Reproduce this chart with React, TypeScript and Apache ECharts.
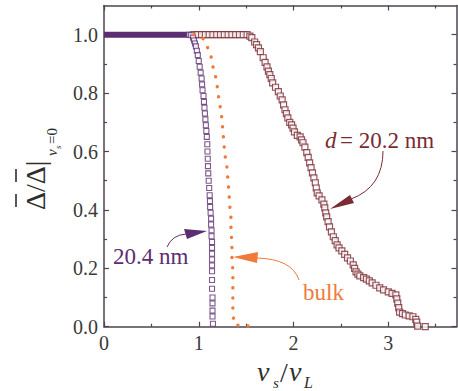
import React, { useEffect, useRef } from "react";
import * as echarts from "echarts";

// ---- data ----
const xMajor = [0, 1, 2, 3];
const xMinor = [0.5, 1.5, 2.5, 3.5];
const yMajor = [0, 0.2, 0.4, 0.6, 0.8, 1.0];
const yMinor = [0.1, 0.3, 0.5, 0.7, 0.9];

// 20.4 nm: dense plateau (overlapping squares form a band) + falling squares
const film204Plateau = [
  [0, 1],
  [0.92, 1],
];
const film204 = [
  [0.9, 1.0], [0.92, 0.998], [0.94, 0.99], [0.95, 0.98], [0.96, 0.97], [0.97, 0.96],
  [0.98, 0.945], [0.99, 0.93], [1.0, 0.91], [1.01, 0.89], [1.02, 0.87], [1.03, 0.85],
  [1.035, 0.83], [1.04, 0.81], [1.05, 0.79], [1.055, 0.77], [1.06, 0.75], [1.065, 0.73],
  [1.07, 0.71], [1.075, 0.69], [1.08, 0.67], [1.085, 0.65], [1.09, 0.625], [1.092, 0.6],
  [1.095, 0.575], [1.097, 0.55], [1.1, 0.525], [1.105, 0.5], [1.11, 0.475], [1.115, 0.45],
  [1.118, 0.43], [1.12, 0.41], [1.125, 0.39], [1.13, 0.37], [1.13, 0.35], [1.135, 0.33],
  [1.135, 0.31], [1.14, 0.29], [1.14, 0.27], [1.14, 0.25], [1.14, 0.23], [1.14, 0.21],
  [1.14, 0.19], [1.14, 0.16], [1.14, 0.13], [1.145, 0.1], [1.145, 0.08], [1.145, 0.055],
  [1.145, 0.035], [1.15, 0.01],
];

// d = 20.2 nm
const film202 = [
  [0.95, 1], [0.99, 1], [1.03, 1], [1.07, 1], [1.11, 1], [1.15, 1], [1.19, 1], [1.23, 1],
  [1.27, 1], [1.31, 1], [1.35, 1], [1.39, 1], [1.43, 1], [1.47, 1], [1.51, 1.0],
  [1.54, 0.995], [1.56, 0.99], [1.59, 0.975], [1.61, 0.966], [1.63, 0.955], [1.65, 0.942],
  [1.68, 0.921], [1.7, 0.905], [1.72, 0.89], [1.735, 0.875], [1.75, 0.863], [1.765, 0.85],
  [1.78, 0.835], [1.81, 0.82], [1.84, 0.805], [1.86, 0.79], [1.88, 0.777], [1.895, 0.76],
  [1.91, 0.743], [1.925, 0.73], [1.94, 0.715], [1.96, 0.7], [1.98, 0.691], [1.995, 0.68],
  [2.01, 0.667], [2.04, 0.655], [2.07, 0.65], [2.085, 0.64], [2.1, 0.63], [2.12, 0.615],
  [2.14, 0.596], [2.155, 0.58], [2.17, 0.561], [2.185, 0.545], [2.2, 0.527], [2.215, 0.51],
  [2.23, 0.493], [2.24, 0.475], [2.25, 0.458], [2.27, 0.448], [2.3, 0.434], [2.32, 0.42],
  [2.33, 0.407], [2.34, 0.39], [2.35, 0.376], [2.365, 0.36], [2.38, 0.342], [2.4, 0.325],
  [2.42, 0.308], [2.44, 0.295], [2.46, 0.28], [2.48, 0.27], [2.51, 0.26], [2.54, 0.248],
  [2.57, 0.236], [2.6, 0.225], [2.63, 0.212], [2.645, 0.2], [2.66, 0.188], [2.68, 0.18],
  [2.7, 0.174], [2.74, 0.168], [2.77, 0.163], [2.8, 0.157], [2.83, 0.15], [2.87, 0.142],
  [2.91, 0.133], [2.95, 0.126], [3.0, 0.119], [3.04, 0.114], [3.08, 0.109], [3.09, 0.095],
  [3.1, 0.081], [3.11, 0.065], [3.12, 0.05], [3.15, 0.045], [3.18, 0.04], [3.22, 0.037],
  [3.26, 0.034], [3.29, 0.025], [3.3, 0.016], [3.31, 0.002], [3.39, 0.0],
];

// bulk (dotted)
const bulk = [
  [0.95, 1.0], [1.04, 0.99], [1.09, 0.959], [1.13, 0.925], [1.15, 0.89], [1.18, 0.853],
  [1.2, 0.812], [1.21, 0.784], [1.23, 0.746], [1.245, 0.709], [1.255, 0.668], [1.276, 0.589],
  [1.297, 0.548], [1.308, 0.503], [1.319, 0.458], [1.329, 0.41], [1.34, 0.373], [1.34, 0.331],
  [1.35, 0.287], [1.35, 0.239], [1.36, 0.194], [1.36, 0.15], [1.36, 0.081], [1.36, 0.04],
  [1.38, 0.006], [1.6, 0.0],
];

const X_MAX = 3.72;
const Y_MAX = 1.1;

const AXIS = "#4d4450";
const LABEL = "#3a3a3a";
const INK = "#2e2e2e";
const PURPLE = "#5c2d70";
const RED = "#7a2b33";
const ORANGE = "#f07a3a";
const SERIF = "Liberation Serif";

function tickAxis(kind: "x" | "y", position: string, values: number[], len: number, line: boolean, labels: boolean) {
  const base: any = {
    type: "value",
    position,
    min: 0,
    max: kind === "x" ? X_MAX : Y_MAX,
    splitLine: { show: false },
    axisLine: { show: line, onZero: false, lineStyle: { color: AXIS, width: 1.5 } },
    axisTick: { show: true, inside: true, length: len, customValues: values, lineStyle: { color: AXIS, width: 1.2 } },
    axisLabel: labels
      ? {
          show: true,
          customValues: values,
          formatter: (v: number) => (kind === "x" ? String(Math.round(v)) : v.toFixed(1)),
          fontFamily: SERIF,
          fontSize: 20,
          color: LABEL,
          margin: 6,
        }
      : { show: false },
  };
  return base;
}

function t(x: number, y: number, text: string, size: number, fill: string, italic = false, va = "bottom") {
  return {
    type: "text",
    x,
    y,
    style: { text, fontFamily: SERIF, fontSize: size, fontStyle: italic ? "italic" : "normal", fill, verticalAlign: va },
  };
}

export default function App() {
  const ref = useRef<HTMLDivElement>(null);
  useEffect(() => {
    if (!ref.current) return;
    const chart = echarts.init(ref.current, undefined, { renderer: "svg" });
    const option: any = {
      animation: false,
      backgroundColor: "#ffffff",
      grid: { left: 104, right: 1.5, top: 5.5, bottom: 64.3, containLabel: false },
      xAxis: [
        tickAxis("x", "bottom", xMajor, 5, true, true),
        tickAxis("x", "bottom", xMinor, 3, false, false),
        tickAxis("x", "top", xMajor, 5, true, false),
        tickAxis("x", "top", xMinor, 3, false, false),
      ],
      yAxis: [
        tickAxis("y", "left", yMajor, 5, true, true),
        tickAxis("y", "left", yMinor, 3, false, false),
        tickAxis("y", "right", yMajor, 5, true, false),
        tickAxis("y", "right", yMinor, 3, false, false),
      ],
      series: [
        {
          type: "scatter",
          xAxisIndex: 0,
          yAxisIndex: 0,
          data: film202,
          symbol: "rect",
          symbolSize: 6,
          itemStyle: { color: "#ffffff", borderColor: RED, borderWidth: 1.2 },
          z: 2,
        },
        {
          type: "line",
          xAxisIndex: 0,
          yAxisIndex: 0,
          data: film204Plateau,
          showSymbol: false,
          lineStyle: { color: PURPLE, width: 6 },
          z: 3,
        },
        {
          type: "scatter",
          xAxisIndex: 0,
          yAxisIndex: 0,
          data: film204,
          symbol: "rect",
          symbolSize: 5,
          itemStyle: { color: "#ffffff", borderColor: PURPLE, borderWidth: 1.1 },
          z: 3,
        },
        {
          type: "line",
          xAxisIndex: 0,
          yAxisIndex: 0,
          data: bulk,
          showSymbol: false,
          lineStyle: { color: ORANGE, width: 3.4, type: [0.1, 10], cap: "round" },
          z: 4,
        },
      ],
      graphic: [
        // y-axis title, rotated
        {
          type: "group",
          x: 44,
          y: 212,
          rotation: Math.PI / 2,
          children: [
            t(2, 5, "Δ/Δ|", 28, INK),
            { type: "line", shape: { x1: 5, y1: -28, x2: 18, y2: -28 }, style: { stroke: INK, lineWidth: 1.6 } },
            { type: "line", shape: { x1: 30, y1: -28, x2: 43, y2: -28 }, style: { stroke: INK, lineWidth: 1.6 } },
            t(56, 15, "v", 15, INK, true),
            t(63, 18, "s", 9, INK, true),
            t(68, 15, "=0", 15, INK),
          ],
        },
        // x-axis title
        t(257, 385, "v", 28, INK, true),
        t(273, 390, "s", 15, INK, true),
        t(280, 386, "/", 28, INK),
        t(289, 385, "v", 28, INK, true),
        t(304, 390, "L", 16, INK, true),
        // annotations
        t(325, 140, "d", 23, RED, true, "middle"),
        t(340, 140, "= 20.2 nm", 23, RED, false, "middle"),
        { type: "bezierCurve", shape: { x1: 383, y1: 151, cpx1: 383, cpy1: 187, x2: 351, y2: 199 }, style: { stroke: RED, lineWidth: 1, fill: null } },
        { type: "polygon", shape: { points: [[330, 209], [350, 195], [354, 203]] }, style: { fill: RED } },

        t(113, 256, "20.4 nm", 23, PURPLE, false, "middle"),
        { type: "bezierCurve", shape: { x1: 167, y1: 247, cpx1: 172, cpy1: 235, x2: 186, y2: 234 }, style: { stroke: PURPLE, lineWidth: 1, fill: null } },
        { type: "polygon", shape: { points: [[207, 231], [184, 229], [187, 239]] }, style: { fill: PURPLE } },

        t(303, 292, "bulk", 23, ORANGE, false, "middle"),
        { type: "bezierCurve", shape: { x1: 299, y1: 280, cpx1: 292, cpy1: 259, x2: 257, y2: 258 }, style: { stroke: ORANGE, lineWidth: 1, fill: null } },
        { type: "polygon", shape: { points: [[233, 257], [258, 252], [257, 263]] }, style: { fill: ORANGE } },
      ],
    };
    chart.setOption(option);
    return () => chart.dispose();
  }, []);
  return <div ref={ref} style={{ position: "fixed", left: 0, top: 0, width: 458, height: 391 }} />;
}
